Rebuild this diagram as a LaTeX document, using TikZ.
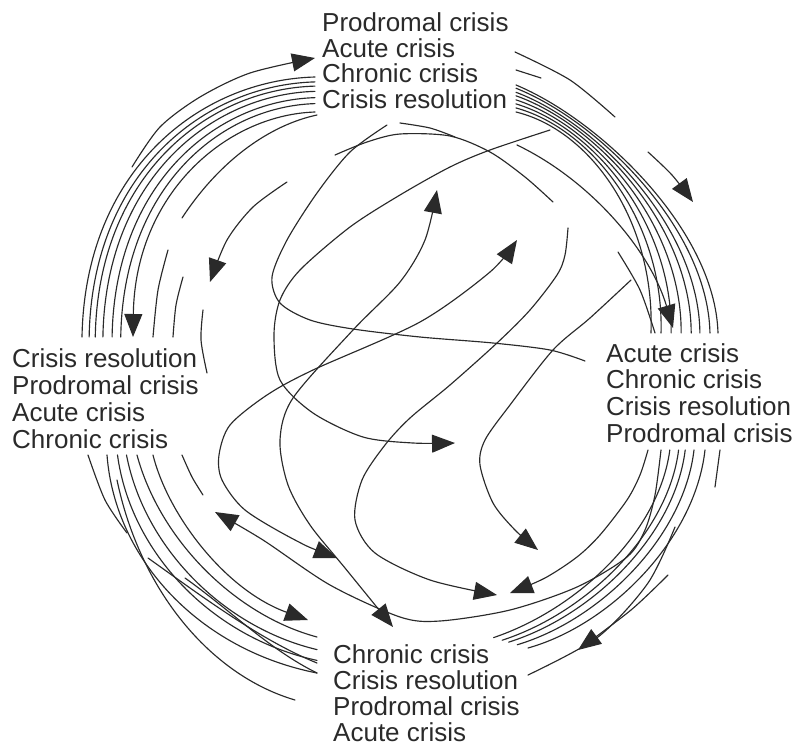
\documentclass[tikz,border=0pt]{standalone}
\usepackage{fontspec}
\setmainfont{Liberation Sans}
\usetikzlibrary{arrows.meta,calc}
\definecolor{ink}{HTML}{2A2A2A}
\tikzset{
  curve/.style={draw=ink, line width=1.15pt, line cap=round},
  tip/.style={-{Triangle[length=23pt,width=18pt]}},
  tips/.style={{Triangle[length=23pt,width=18pt]}-{Triangle[length=23pt,width=18pt]}},
  lbl/.style={anchor=base west, inner sep=0pt, text=ink, font=\fontsize{26}{26}\selectfont},
}
\begin{document}
\begin{tikzpicture}[x=1pt,y=-1pt]
\useasboundingbox (0,0) rectangle (796,745);

% ---- the four phase lists ----
\node[lbl] (n1) at (322,31)  {Prodromal crisis};
\node[lbl] (n2) at (322,57)  {Acute crisis};
\node[lbl] (n3) at (322,82)  {Chronic crisis};
\node[lbl] (n4) at (322,108) {Crisis resolution};

\node[lbl] (e1) at (606,362) {Acute crisis};
\node[lbl] (e2) at (606,388) {Chronic crisis};
\node[lbl] (e3) at (606,415) {Crisis resolution};
\node[lbl] (e4) at (606,442) {Prodromal crisis};

\node[lbl] (s1) at (333,663) {Chronic crisis};
\node[lbl] (s2) at (333,689) {Crisis resolution};
\node[lbl] (s3) at (333,715) {Prodromal crisis};
\node[lbl] (s4) at (333,741) {Acute crisis};

\node[lbl] (w1) at (12,367) {Crisis resolution};
\node[lbl] (w2) at (12,394) {Prodromal crisis};
\node[lbl] (w3) at (12,421) {Acute crisis};
\node[lbl] (w4) at (12,448) {Chronic crisis};

% ---- outer bundle: top list to left list ----
\coordinate (tlAo) at (315,77);  \coordinate (tlAi) at (315,112);
\coordinate (tlBo) at (200,80);  \coordinate (tlBi) at (225,115);
\coordinate (tlCo) at (85,170);  \coordinate (tlCi) at (135,195);
\coordinate (tlDo) at (82,337);  \coordinate (tlDi) at (133,337);
\foreach \s in {0,.14,.26,.41,.59,.76}
  \draw[curve] ($(tlAo)!\s!(tlAi)$) .. controls ($(tlBo)!\s!(tlBi)$) and ($(tlCo)!\s!(tlCi)$) .. ($(tlDo)!\s!(tlDi)$);
\draw[curve,tip] (tlAi) .. controls (tlBi) and (tlCi) .. (tlDi);
\draw[curve,tip] plot[smooth] coordinates {(132,167) (160,127) (200,97) (250,73) (315,58)};
\draw[curve] (182,218) .. controls (220,160) and (270,125) .. (317,115);
\draw[curve] plot[smooth] coordinates {(168,250) (158,290) (153,337)};
\draw[curve] plot[smooth] coordinates {(183,277) (176,305) (173,337)};
\draw[curve] plot[smooth] coordinates {(203,310) (201,340) (207,373)};
\draw[curve,tip] plot[smooth] coordinates {(287,182) (253,207) (227,240) (210,282)};

% ---- outer bundle: top list to right list ----
\coordinate (trAo) at (516,85);  \coordinate (trAi) at (516,112);
\coordinate (trBo) at (600,120); \coordinate (trBi) at (590,130);
\coordinate (trCo) at (715,230); \coordinate (trCi) at (655,220);
\coordinate (trDo) at (718,333); \coordinate (trDi) at (651,333);
\foreach \s in {0,.12,.27,.4,.55,.7,.85,1}
  \draw[curve] ($(trAo)!\s!(trAi)$) .. controls ($(trBo)!\s!(trBi)$) and ($(trCo)!\s!(trCi)$) .. ($(trDo)!\s!(trDi)$);
\draw[curve,tip] (517,145) .. controls (590,180) and (650,250) .. (673,328);
\draw[curve] plot[smooth] coordinates {(515,52) (570,80) (615,117)};
\draw[curve] (516,70) -- (541,78);
\draw[curve,tip] plot[smooth] coordinates {(648,152) (672,175) (693,202)};
\draw[curve] plot[smooth] coordinates {(618,252) (640,290) (655,333)};

% ---- outer bundle: right list to bottom list ----
\coordinate (brAo) at (705,450); \coordinate (brAi) at (661,450);
\coordinate (brBo) at (695,540); \coordinate (brBi) at (650,530);
\coordinate (brCo) at (610,625); \coordinate (brCi) at (570,605);
\coordinate (brDo) at (528,648); \coordinate (brDi) at (485,635);
\foreach \s in {0,.25,.45,.6,.8}
  \draw[curve] ($(brAo)!\s!(brAi)$) .. controls ($(brBo)!\s!(brBi)$) and ($(brCo)!\s!(brCi)$) .. ($(brDo)!\s!(brDi)$);
\draw[curve] (720,450) -- (715,487);
\draw[curve,tip] plot[smooth] coordinates {(668,575) (631,610) (578,650)};
\draw[curve] plot[smooth] coordinates {(675,527) (648,583) (598,637) (528,675)};

% ---- outer bundle: left list to bottom list ----
\coordinate (blAo) at (107,455); \coordinate (blAi) at (137,455);
\coordinate (blBo) at (115,560); \coordinate (blBi) at (160,540);
\coordinate (blCo) at (200,650); \coordinate (blCi) at (235,615);
\coordinate (blDo) at (317,673); \coordinate (blDi) at (317,637);
\foreach \s in {0,.35,.65,1}
  \draw[curve] ($(blAo)!\s!(blAi)$) .. controls ($(blBo)!\s!(blBi)$) and ($(blCo)!\s!(blCi)$) .. ($(blDo)!\s!(blDi)$);
\draw[curve] (117,480) .. controls (140,590) and (210,675) .. (295,700);
\draw[curve] (148,558) .. controls (200,595) and (260,640) .. (317,663);
\draw[curve] (185,578) .. controls (230,610) and (270,650) .. (317,673);
\draw[curve] plot[smooth] coordinates {(88,455) (105,500) (127,533)};
\draw[curve] plot[smooth] coordinates {(182,455) (192,477) (203,495)};
\draw[curve,tip] (153,455) .. controls (168,515) and (225,590) .. (308,620);

% ---- transitions across the middle ----
\coordinate (aS) at (393,627); \coordinate (aE) at (437,190);
\draw[curve,tips] plot[smooth] coordinates {(aS) (345,568) (310,525) (288,485) (280,440) (293,398) (353,330) (400,282) (425,240) (aE)};

\coordinate (bS) at (337,558); \coordinate (bE) at (517,240);
\draw[curve,tips] plot[smooth] coordinates {(bS) (295,540) (245,510) (222,480) (219,455) (230,425) (267,395) (313,370) (420,322) (490,272) (bE)};

\coordinate (cS) at (550,130); \coordinate (cE) at (455,443);
\draw[curve,tip] plot[smooth] coordinates {(cS) (490,150) (450,167) (400,195) (350,227) (300,270) (280,300) (274,335) (280,380) (313,413) (363,437) (413,443) (cE)};

\coordinate (kS) at (387,125); \coordinate (kE) at (585,361);
\draw[curve] plot[smooth] coordinates {(kS) (350,152) (317,193) (287,240) (272,277) (280,303) (310,320) (353,329) (420,337) (493,343) (550,350) (kE)};

\coordinate (mS) at (335,155); \coordinate (mE) at (553,202);
\draw[curve] plot[smooth] coordinates {(mS) (367,142) (400,134) (450,136) (490,152) (525,177) (mE)};
\draw[curve] plot[smooth] coordinates {(400,123) (430,128) (455,137)};

\coordinate (dS) at (568,228); \coordinate (dE) at (497,595);
\draw[curve,tip] plot[smooth] coordinates {(dS) (565,255) (557,275) (530,310) (497,343) (450,385) (410,418) (385,445) (362,480) (355,520) (375,553) (430,580) (dE)};

\coordinate (fS) at (631,280); \coordinate (fE) at (538,550);
\draw[curve,tip] plot[smooth] coordinates {(fS) (590,318) (553,350) (510,405) (485,440) (480,465) (493,503) (515,530) (fE)};

\coordinate (gS) at (648,450); \coordinate (gE) at (510,593);
\draw[curve,tip] plot[smooth] coordinates {(gS) (640,475) (627,500) (600,535) (577,557) (545,578) (gE)};

\coordinate (hS) at (661,450); \coordinate (hE) at (215,512);
\draw[curve,tip] plot[smooth] coordinates {(hS) (655,495) (645,530) (627,557) (577,587) (510,610) (440,621) (400,617) (330,585) (263,540) (hE)};

\end{tikzpicture}
\end{document}
